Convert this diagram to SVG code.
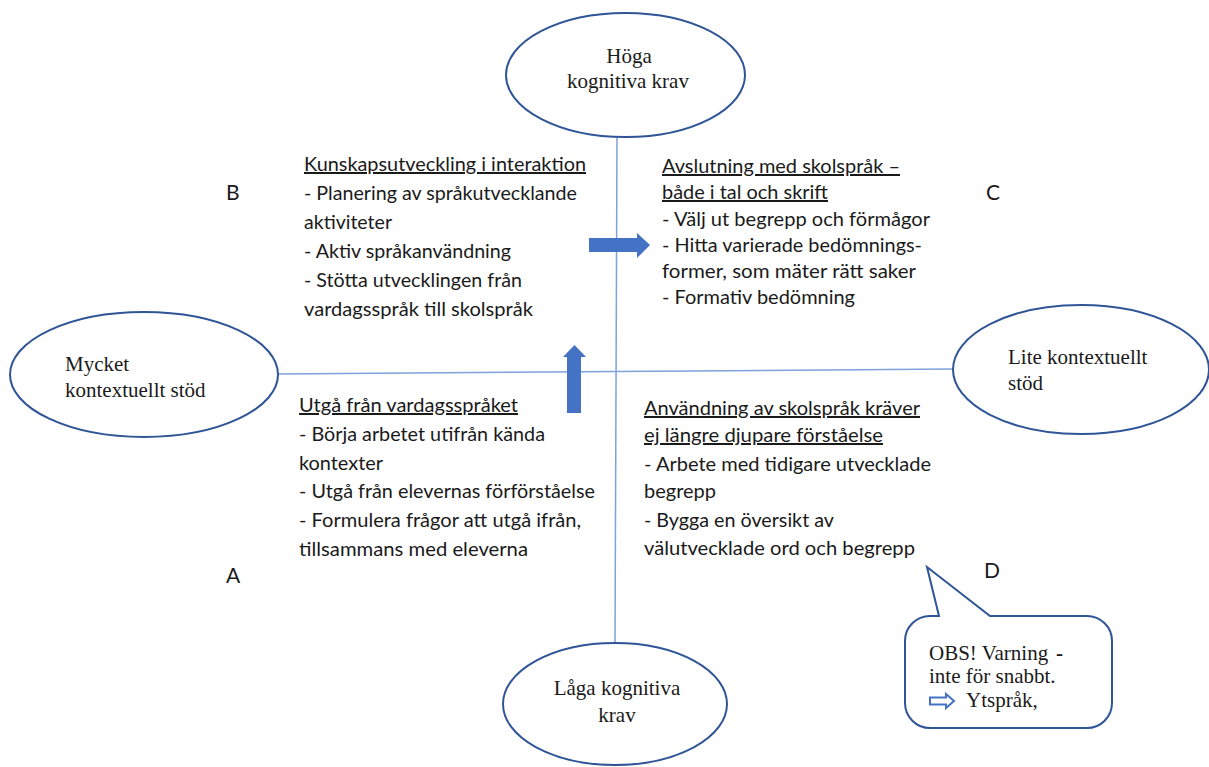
<svg xmlns="http://www.w3.org/2000/svg" width="1209" height="767" viewBox="0 0 1209 767">
<style>
.ell{fill:#ffffff;stroke:#2F5597;stroke-width:2}
.axis{stroke:#7FA1DC;stroke-width:1.5;fill:none}
.blk{fill:#4472C4}
.serif{font-family:"Liberation Serif","Times New Roman",serif;font-size:21px;fill:#1a1a1a}
.sans{font-family:Lato,"Open Sans","Liberation Sans",sans-serif;font-size:20px;fill:#1a1a1a}
.u{text-decoration:underline}
.lbl{font-family:Lato,"Open Sans","Liberation Sans",sans-serif;font-size:21px;fill:#1a1a1a}
</style>
<rect width="1209" height="767" fill="#ffffff"/>
<g id="connectors">
<line class="axis" x1="617" y1="137" x2="615" y2="643"/>
<line class="axis" x1="278" y1="374" x2="953" y2="369"/>
<polygon class="blk" points="589,238 637,238 637,233 650,245 637,258 637,252 589,252"/>
<polygon class="blk" points="567,413 567,357 563,357 574.5,345 586,357 581,357 581,413"/>
</g>
<g id="node-hoga">
<ellipse class="ell" cx="625.5" cy="75" rx="119.5" ry="62"/>
<text class="serif" text-anchor="middle"><tspan x="629" y="63">Höga</tspan><tspan x="628" y="88">kognitiva krav</tspan></text>
</g>
<g id="node-mycket">
<ellipse class="ell" cx="144" cy="374.5" rx="134" ry="62.5"/>
<text class="serif"><tspan x="65" y="371">Mycket</tspan><tspan x="65" y="397">kontextuellt stöd</tspan></text>
</g>
<g id="node-lite">
<ellipse class="ell" cx="1081" cy="369.5" rx="128" ry="64.5"/>
<text class="serif"><tspan x="1008" y="364">Lite kontextuellt</tspan><tspan x="1008" y="390">stöd</tspan></text>
</g>
<g id="node-laga">
<ellipse class="ell" cx="615" cy="704" rx="112" ry="61"/>
<text class="serif" text-anchor="middle"><tspan x="617" y="695">Låga kognitiva</tspan><tspan x="617" y="722">krav</tspan></text>
</g>
<g id="quadrant-b">
<text class="lbl" x="226" y="200">B</text>
<text class="sans u" x="304" y="171" textLength="282" lengthAdjust="spacingAndGlyphs">Kunskapsutveckling i interaktion</text>
<text class="sans" x="304" y="200" textLength="273" lengthAdjust="spacingAndGlyphs">- Planering av språkutvecklande</text>
<text class="sans" x="304" y="229" textLength="88" lengthAdjust="spacingAndGlyphs">aktiviteter</text>
<text class="sans" x="304" y="258" textLength="207" lengthAdjust="spacingAndGlyphs">- Aktiv språkanvändning</text>
<text class="sans" x="304" y="287" textLength="218" lengthAdjust="spacingAndGlyphs">- Stötta utvecklingen från</text>
<text class="sans" x="304" y="316" textLength="229" lengthAdjust="spacingAndGlyphs">vardagsspråk till skolspråk</text>
</g>
<g id="quadrant-c">
<text class="lbl" x="986" y="200">C</text>
<text class="sans u" x="662" y="173" textLength="238" lengthAdjust="spacingAndGlyphs">Avslutning med skolspråk –</text>
<text class="sans u" x="662" y="199" textLength="166" lengthAdjust="spacingAndGlyphs">både i tal och skrift</text>
<text class="sans" x="662" y="226" textLength="268" lengthAdjust="spacingAndGlyphs">- Välj ut begrepp och förmågor</text>
<text class="sans" x="662" y="252" textLength="260" lengthAdjust="spacingAndGlyphs">- Hitta varierade bedömnings-</text>
<text class="sans" x="662" y="278" textLength="254" lengthAdjust="spacingAndGlyphs">former, som mäter rätt saker</text>
<text class="sans" x="662" y="304" textLength="193" lengthAdjust="spacingAndGlyphs">- Formativ bedömning</text>
</g>
<g id="quadrant-a">
<text class="lbl" x="226" y="583">A</text>
<text class="sans u" x="299" y="412" textLength="219" lengthAdjust="spacingAndGlyphs">Utgå från vardagsspråket</text>
<text class="sans" x="299" y="441" textLength="246" lengthAdjust="spacingAndGlyphs">- Börja arbetet utifrån kända</text>
<text class="sans" x="299" y="470" textLength="84" lengthAdjust="spacingAndGlyphs">kontexter</text>
<text class="sans" x="299" y="498" textLength="296" lengthAdjust="spacingAndGlyphs">- Utgå från elevernas förförståelse</text>
<text class="sans" x="299" y="527" textLength="282" lengthAdjust="spacingAndGlyphs">- Formulera frågor att utgå ifrån,</text>
<text class="sans" x="299" y="556" textLength="229" lengthAdjust="spacingAndGlyphs">tillsammans med eleverna</text>
</g>
<g id="quadrant-d">
<text class="lbl" x="984" y="578">D</text>
<text class="sans u" x="644" y="415" textLength="276" lengthAdjust="spacingAndGlyphs">Användning av skolspråk kräver</text>
<text class="sans u" x="644" y="442" textLength="239" lengthAdjust="spacingAndGlyphs">ej längre djupare förståelse</text>
<text class="sans" x="644" y="471" textLength="287" lengthAdjust="spacingAndGlyphs">- Arbete med tidigare utvecklade</text>
<text class="sans" x="644" y="498" textLength="72" lengthAdjust="spacingAndGlyphs">begrepp</text>
<text class="sans" x="644" y="527" textLength="190" lengthAdjust="spacingAndGlyphs">- Bygga en översikt av</text>
<text class="sans" x="644" y="555" textLength="271" lengthAdjust="spacingAndGlyphs">välutvecklade ord och begrepp</text>
</g>
<g id="callout">
<path d="M930,616 H939 L927,567 L990,616 H1087 A25,25 0 0 1 1112,641 V703 A25,25 0 0 1 1087,728 H930 A25,25 0 0 1 905,703 V641 A25,25 0 0 1 930,616 Z" fill="#ffffff" stroke="#2F5597" stroke-width="2"/>
<text class="serif"><tspan x="929" y="660">OBS! Varning</tspan><tspan x="1056" y="660" font-weight="bold">-</tspan><tspan x="929" y="683">inte för snabbt.</tspan><tspan x="966" y="707">Ytspråk,</tspan></text>
<path d="M930,697.5 H946 V694 L954,701 L946,708 V704.5 H930 Z" fill="#ffffff" stroke="#4472C4" stroke-width="2" stroke-linejoin="miter"/>
</g>
</svg>
